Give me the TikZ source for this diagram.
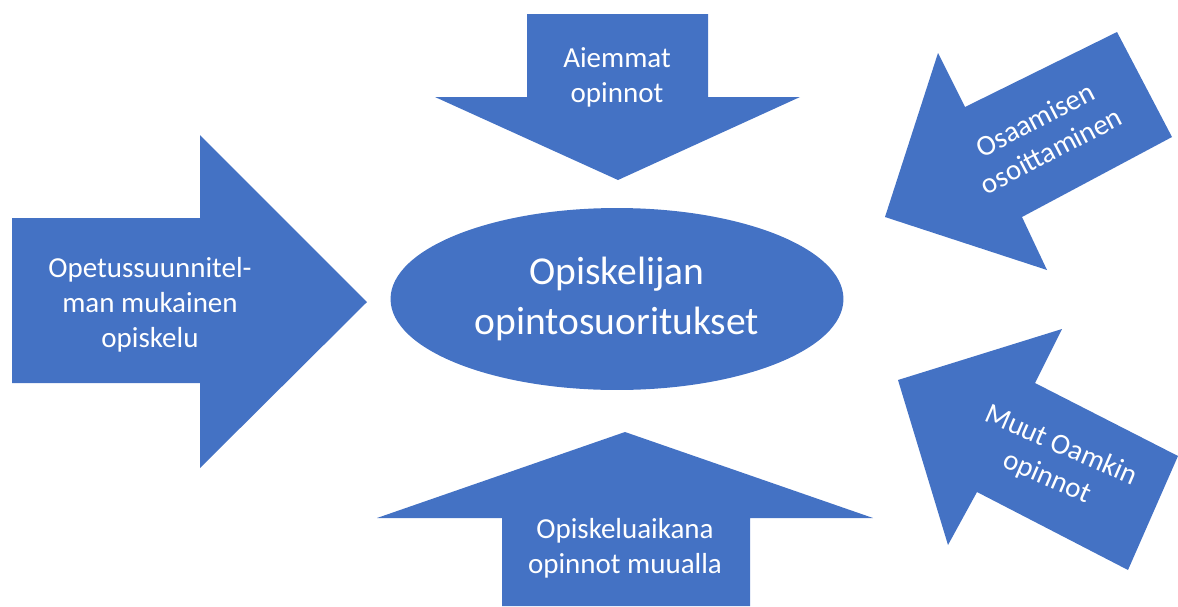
\documentclass[tikz,border=0pt]{standalone}
\usepackage{fontspec}
\setmainfont{Carlito}
\usetikzlibrary{shapes.geometric}
\definecolor{officeblue}{HTML}{4472C4}

\begin{document}
\begin{tikzpicture}[x=0.02cm, y=-0.02cm,
        blk/.style={fill=officeblue},
        lbl/.style={text=white, align=center, inner sep=0pt, font=\fontsize{16.5}{20}\selectfont}]
    \useasboundingbox (0, 0) rectangle (1178, 606);
    % block arrows, pixel coordinates
    \fill[blk] (527, 14) -- (708, 14) -- (708, 97) -- (800, 97) -- (618, 180) -- (435, 97) -- (527, 97) -- cycle;
    \fill[blk] (12, 218) -- (200, 218) -- (200, 135) -- (367, 302) -- (200, 468) -- (200, 383) -- (12, 383) -- cycle;
    \fill[blk] (502, 606) -- (502, 518) -- (377, 518) -- (625, 432) -- (873, 518) -- (750, 518) -- (750, 606) -- cycle;
    \fill[blk] (885, 217) -- (938, 53) -- (965, 107) -- (1117, 32) -- (1172, 137) -- (1022, 217) -- (1047, 270) -- cycle;
    \fill[blk] (898, 380) -- (1062, 329) -- (1035, 383) -- (1178, 456) -- (1128, 570) -- (977, 492) -- (948, 545) -- cycle;
    % the texts
    \node[blk, ellipse, minimum width=9.06cm, minimum height=3.64cm, inner sep=0pt,
          text=white, align=center, font=\fontsize{22.5}{28.5}\selectfont]
        (suoritukset) at (617, 299) {Opiskelijan\\opintosuoritukset};
    \node[lbl] (aiemmat) at (617, 77) {Aiemmat\\opinnot};
    \node[lbl] (ops) at (150, 305) {Opetussuunnitel-\\man mukainen\\opiskelu};
    \node[lbl] (muualla) at (625, 548) {Opiskeluaikana\\opinnot muualla};
    \node[lbl, rotate=27.6] (osoittaminen) at (1043, 135) {Osaamisen\\osoittaminen};
    \node[lbl, rotate=-23.5] (oamk) at (1054, 462) {Muut Oamkin\\opinnot};
\end{tikzpicture}
\end{document}
